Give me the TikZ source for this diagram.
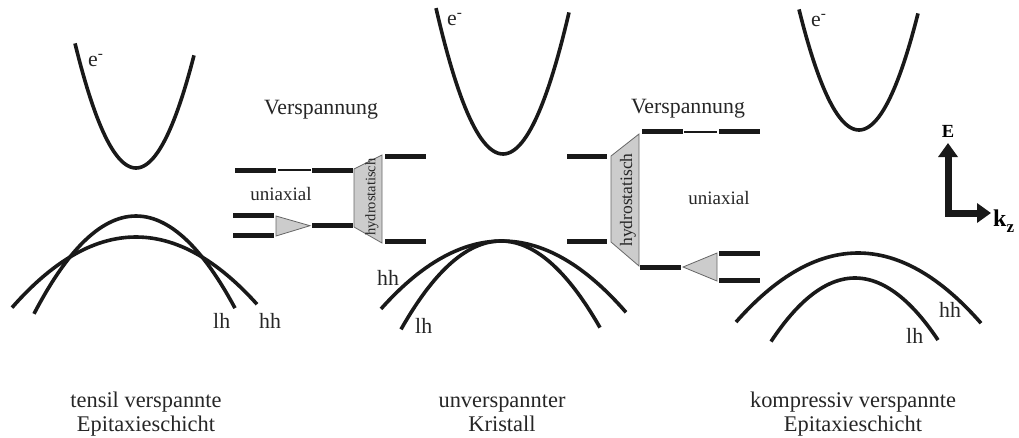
\documentclass[tikz,border=0pt]{standalone}
\usepackage{fontspec}
\setmainfont{Liberation Serif}
\usetikzlibrary{arrows.meta}
\begin{document}
\begin{tikzpicture}[x=1pt,y=-1pt,
  band/.style={line width=3.6pt, line cap=butt, color=black!90},
  lvl/.style={line width=5pt, color=black!90},
  thinlvl/.style={line width=1.6pt, color=black!90},
  wedge/.style={fill=gray!40, draw=black!60, line width=0.8pt, line join=miter},
  lbl/.style={font=\fontsize{21.8}{24}\selectfont, inner sep=0pt, text=black!85},
  biglbl/.style={font=\fontsize{22.4}{24}\selectfont, inner sep=0pt, text=black!85},
  smalllbl/.style={font=\fontsize{19}{22}\selectfont, inner sep=0pt, text=black!85},
  axis/.style={line width=7pt, line join=miter, color=black!90,
    {Triangle[length=14pt,width=19pt]}-{Triangle[length=14pt,width=19pt]}}]
\useasboundingbox (0,0) rectangle (1019,437);

% ---------- left panel: tensile ----------
\draw[band] plot[domain=-61:58, samples=60] ({136+\x},{168-0.0335*\x*\x});
\draw[band] plot[domain=-102:99, samples=60] ({136+\x},{216+0.0094*\x*\x});
\draw[band] plot[domain=-124:121, samples=60] ({136+\x},{237+0.0046*\x*\x});
\node[lbl, anchor=base west] (eL) at (88,66) {e\textsuperscript{-}};
\node[lbl, anchor=base west] (lhL) at (213,328) {lh};
\node[lbl, anchor=base west] (hhL) at (259,328) {hh};
\node[biglbl, anchor=base] (tL1) at (146,407) {tensil verspannte};
\node[biglbl, anchor=base] (tL2) at (146,431) {Epitaxieschicht};

% ---------- middle panel: unstrained ----------
\draw[band] plot[domain=-67:66, samples=60] ({503+\x},{154-0.0325*\x*\x});
\draw[band] plot[domain=-121:124, samples=60] ({502+\x},{241+0.00464*\x*\x});
\draw[band] plot[domain=-100:99, samples=60] ({501+\x},{241+0.00884*\x*\x});
\node[lbl, anchor=base west] (eM) at (447,25) {e\textsuperscript{-}};
\node[lbl, anchor=base west] (hhM) at (377,285) {hh};
\node[lbl, anchor=base west] (lhM) at (415,333) {lh};
\node[biglbl, anchor=base] (tM1) at (502,407) {unverspannter};
\node[biglbl, anchor=base] (tM2) at (502,431) {Kristall};

% ---------- right panel: compressive ----------
\draw[band] plot[domain=-60:59, samples=60] ({859+\x},{130-0.0335*\x*\x});
\draw[band] plot[domain=-122:123, samples=60] ({858+\x},{253+0.00464*\x*\x});
\draw[band] plot[domain=-84:83, samples=60] ({855+\x},{278+0.009*\x*\x});
\node[lbl, anchor=base west] (eR) at (811,26) {e\textsuperscript{-}};
\node[lbl, anchor=base west] (hhR) at (939,317) {hh};
\node[lbl, anchor=base west] (lhR) at (906,343) {lh};
\node[biglbl, anchor=base] (tR1) at (853,407) {kompressiv verspannte};
\node[biglbl, anchor=base] (tR2) at (853,431) {Epitaxieschicht};

% ---------- left level scheme ----------
\node[lbl, anchor=base] (vL) at (321,114) {Verspannung};
\node[smalllbl, anchor=base] (uL) at (281,200) {uniaxial};
\draw[lvl] (235,170) -- (276,170);
\draw[thinlvl] (278,170) -- (311,170);
\draw[lvl] (312,170) -- (353,170);
\draw[lvl] (233,215.7) -- (274,215.7);
\draw[lvl] (233,235.7) -- (274,235.7);
\draw[wedge] (276,216) -- (310,225.7) -- (276,236) -- cycle;
\draw[lvl] (312,225.7) -- (353,225.7);
\draw[wedge] (354,169) -- (382,155) -- (382,243) -- (354,227) -- cycle;
\node[font=\fontsize{14.5}{16}\selectfont, inner sep=0pt, rotate=90, text=black!85] (hL) at (372,197) {hydrostatisch};

% ---------- middle levels ----------
\draw[lvl] (385,156) -- (426,156);
\draw[lvl] (385,241) -- (426,241);
\draw[lvl] (567,156.5) -- (607,156.5);
\draw[lvl] (567,241.5) -- (607,241.5);

% ---------- right level scheme ----------
\node[lbl, anchor=base] (vR) at (688,113) {Verspannung};
\node[smalllbl, anchor=base] (uR) at (719,204) {uniaxial};
\draw[wedge] (611,156) -- (639,134) -- (639,266) -- (611,242) -- cycle;
\node[font=\fontsize{17.5}{19}\selectfont, inner sep=0pt, rotate=90, text=black!85] (hR) at (628,200) {hydrostatisch};
\draw[lvl] (642,131.7) -- (683,131.7);
\draw[thinlvl] (684,131.7) -- (717,131.7);
\draw[lvl] (719,131.7) -- (760,131.7);
\draw[lvl] (640,267) -- (681,267);
\draw[wedge] (683,267) -- (717,253) -- (717,281) -- cycle;
\draw[lvl] (719,253.3) -- (760,253.3);
\draw[lvl] (719,280) -- (760,280);

% ---------- axes ----------
\coordinate (aTop) at (948,143);
\coordinate (aCorner) at (948,213);
\coordinate (aRight) at (991,213);
\draw[axis] (aTop) -- (aCorner) -- (aRight);
\node[font=\fontsize{18.5}{20}\selectfont\bfseries, inner sep=0pt, anchor=base] (E) at (948,137) {E};
\node[font=\fontsize{24}{26}\selectfont\bfseries, inner sep=0pt, anchor=base west] (k) at (993,226) {k\raisebox{-6pt}{\fontsize{17}{18}\selectfont z}};
\end{tikzpicture}
\end{document}
